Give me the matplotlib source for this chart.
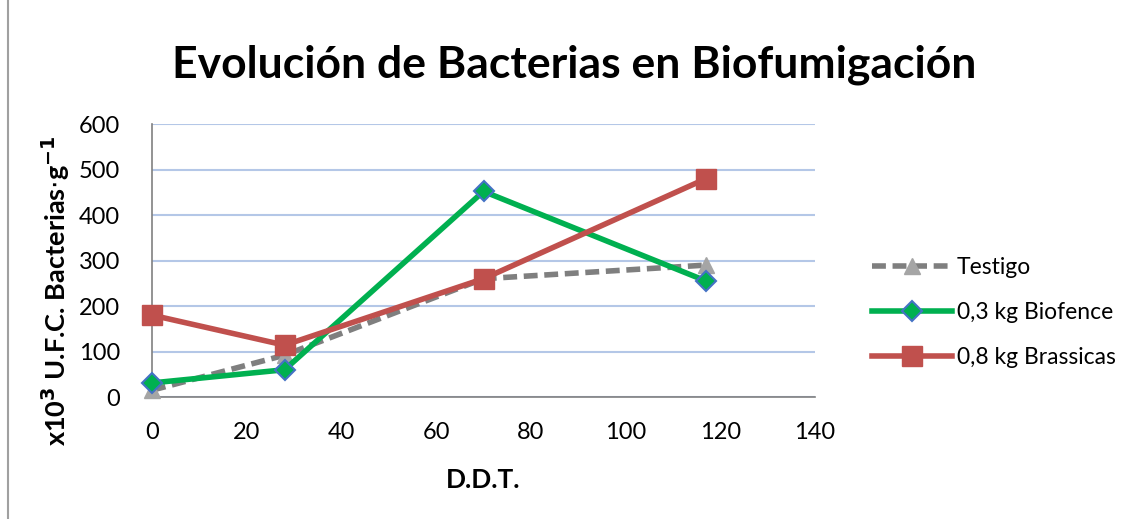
import matplotlib
matplotlib.use('Agg')
import matplotlib.pyplot as plt

plt.rcParams['font.family'] = ['Lato', 'DejaVu Sans']

ddt = [0, 28, 70, 117]
testigo = [15, 92, 260, 290]
biofence = [31, 60, 452, 255]
brassicas = [180, 114, 260, 480]
series_names = ['Testigo', '0,3 kg Biofence', '0,8 kg Brassicas']
yticks = [0, 100, 200, 300, 400, 500, 600]
xticks = [0, 20, 40, 60, 80, 100, 120, 140]

fig = plt.figure(figsize=(11.31, 5.19), dpi=100)
ax = fig.add_axes([0.1344, 0.235, 0.5862, 0.526])

ax.plot(ddt, testigo, color='#7f7f7f', lw=4, ls=(0, (2.5, 1.2)), marker='^',
        ms=11, mfc='#a5a5a5', mec='#a5a5a5', label=series_names[0], zorder=3)
ax.plot(ddt, biofence, color='#00b050', lw=4, marker='D', ms=10,
        mfc='#00b050', mec='#4472c4', mew=1.5, label=series_names[1], zorder=4)
ax.plot(ddt, brassicas, color='#c0504d', lw=4, marker='s', ms=15,
        mfc='#c0504d', mec='#c0504d', label=series_names[2], zorder=5)

ax.set_xlim(0, 140)
ax.set_ylim(0, 600)
ax.set_xticks(xticks)
ax.set_yticks(yticks)
ax.tick_params(length=0, labelsize=17)
ax.tick_params(axis='y', pad=23)
ax.tick_params(axis='x', pad=18)
ax.yaxis.grid(True, color='#b4c7e7', lw=1.5)
ax.set_axisbelow(True)
for s in ['top', 'right']:
    ax.spines[s].set_visible(False)
for s in ['left', 'bottom']:
    ax.spines[s].set_color('#808080')
    ax.spines[s].set_linewidth(1.2)
for ln in ax.get_lines():
    ln.set_clip_on(False)

ax.set_xlabel('D.D.T.', fontsize=19, fontweight='bold', labelpad=18)
ax.set_ylabel(r'x10$^{\mathbf{3}}$ U.F.C. Bacterias$\cdot$g$^{\mathbf{-1}}$',
              fontsize=19.5, fontweight='bold')
ax.yaxis.set_label_coords(-0.12, 0.39)

fig.text(0.508, 0.875, 'Evolución de Bacterias en Biofumigación', ha='center',
         va='center', fontsize=32, fontweight='bold')

leg = ax.legend(loc='center left', bbox_to_anchor=(1.055, 0.31), frameon=False,
                fontsize=16.5, handlelength=3.5, labelspacing=1.05, handletextpad=0.2)

fig.patches.append(plt.Rectangle((0.007, -0.01), 1.1, 1.1, transform=fig.transFigure,
                                 fill=False, edgecolor='#a0a0a0', lw=1.5))

fig.savefig('out.png', dpi=100)
